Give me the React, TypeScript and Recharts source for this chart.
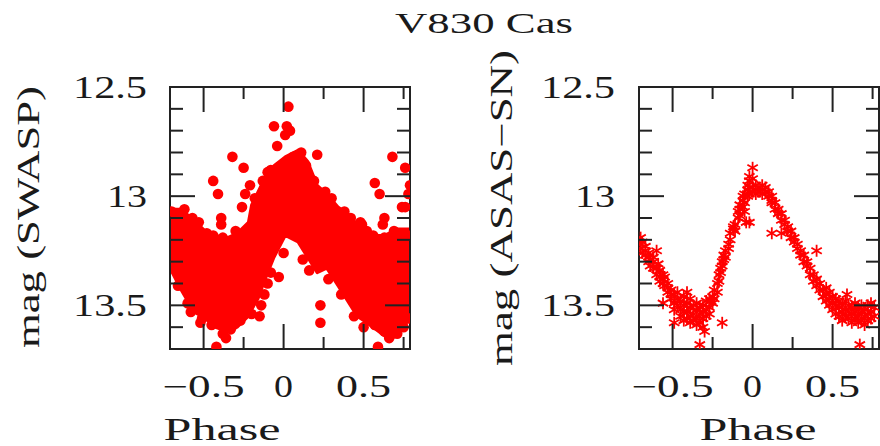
import React from "react";
import { ComposedChart, Scatter, Area, XAxis, YAxis, ReferenceArea } from "recharts";

// ── axes ───────────────────────────────────────────────────────────────────
const PHASE_DOMAIN: [number, number] = [-0.71, 0.79];
const MAG_DOMAIN: [number, number] = [12.5, 13.7];
const PHASE_TICKS = [-0.5, -0.25, 0, 0.25, 0.5, 0.75];
const PHASE_LABELS = [-0.5, 0, 0.5];
const MAG_TICKS = [12.5, 12.6, 12.7, 12.8, 12.9, 13, 13.1, 13.2, 13.3, 13.4, 13.5, 13.6, 13.7];
const MAG_LABELS = [12.5, 13, 13.5];

// ── SWASP: dense core envelope (bright / faint edge) + single dots ─────────
const bandPhase = [-0.71, -0.64, -0.56, -0.49, -0.43, -0.35, -0.29, -0.22, -0.2, -0.16, -0.12, -0.06, 0.01, 0.09, 0.15, 0.21, 0.27, 0.34, 0.4, 0.46, 0.52, 0.63, 0.71, 0.79];
const bandBright = [13.06, 13.06, 13.11, 13.16, 13.18, 13.19, 13.17, 13.12, 13.04, 12.98, 12.92, 12.86, 12.82, 12.79, 12.84, 12.95, 12.99, 13.05, 13.08, 13.13, 13.18, 13.18, 13.15, 13.15];
const bandFaint = [13.33, 13.43, 13.53, 13.56, 13.6, 13.62, 13.6, 13.55, 13.52, 13.47, 13.39, 13.28, 13.18, 13.21, 13.28, 13.35, 13.33, 13.41, 13.48, 13.55, 13.58, 13.64, 13.63, 13.56];

const swaspPoints: [number, number][] = [
  [0.03, 12.59], [-0.06, 12.68], [0.02, 12.68], [0.04, 12.7], [0.01, 12.72], [-0.04, 12.77],
  [-0.32, 12.82], [0.11, 12.8], [0.21, 12.81], [-0.25, 12.87], [-0.1, 12.89], [-0.44, 12.93],
  [-0.41, 12.99], [-0.21, 12.95], [-0.24, 12.99], [-0.26, 13.05], [-0.39, 13.1], [-0.39, 13.13],
  [0.68, 12.82], [0.76, 12.87], [0.79, 12.95], [0.78, 12.99], [0.57, 12.94], [0.6, 12.99],
  [0.76, 13.05], [0.63, 13.1], [0.62, 13.13], [0.49, 13.13], [0.0, 13.26], [-0.03, 13.37],
  [0.23, 13.5], [0.23, 13.58], [-0.42, 13.69], [-0.36, 13.65], [0.59, 13.69], [0.66, 13.65],
  [-0.7, 13.07], [-0.62, 13.06], [-0.53, 13.12], [-0.44, 13.18], [-0.38, 13.19], [-0.12, 13.45],
  [-0.14, 13.5], [-0.15, 13.55], [-0.33, 13.61], [-0.58, 13.53], [-0.66, 13.41], [0.19, 12.93],
  [0.26, 12.98], [0.38, 13.07], [0.48, 13.12], [0.74, 13.05], [0.56, 13.18], [0.63, 13.19],
  [0.78, 13.18], [0.16, 13.34], [0.44, 13.55], [0.57, 13.59], [0.63, 13.62], [-0.45, 13.59],
  [-0.51, 13.56], [-0.08, 13.35], [0.71, 13.63], [0.78, 13.56], [-0.67, 13.08], [-0.57, 13.1],
  [-0.48, 13.17], [-0.3, 13.16], [-0.18, 13.01], [-0.13, 12.93], [-0.08, 12.88], [0.06, 12.82],
  [0.14, 12.86], [0.3, 13.01], [0.42, 13.1], [0.52, 13.16], [0.69, 13.16], [-0.6, 13.49],
  [-0.52, 13.58], [-0.38, 13.63], [-0.27, 13.57], [-0.2, 13.54], [-0.1, 13.4], [0.12, 13.29],
  [0.28, 13.38], [0.36, 13.45], [0.5, 13.6], [0.68, 13.63], [0.75, 13.6],
];

// ── ASAS-SN ────────────────────────────────────────────────────────────────
const asasPoints: [number, number][] = [
  [-0.7, 13.19], [-0.7, 13.22], [-0.7, 13.24], [-0.69, 13.21], [-0.69, 13.26],
  [-0.67, 13.23], [-0.67, 13.27], [-0.67, 13.25], [-0.65, 13.26], [-0.65, 13.3], [-0.65, 13.28],
  [-0.64, 13.29], [-0.64, 13.32], [-0.62, 13.3], [-0.62, 13.33], [-0.62, 13.28], [-0.6, 13.25],
  [-0.6, 13.33], [-0.6, 13.36], [-0.59, 13.31], [-0.58, 13.34], [-0.58, 13.37], [-0.58, 13.39],
  [-0.56, 13.36], [-0.56, 13.4], [-0.56, 13.38], [-0.56, 13.49], [-0.55, 13.41], [-0.55, 13.37],
  [-0.53, 13.4], [-0.53, 13.44], [-0.53, 13.42], [-0.51, 13.43], [-0.51, 13.47], [-0.51, 13.45],
  [-0.49, 13.45], [-0.49, 13.49], [-0.49, 13.52], [-0.49, 13.58], [-0.47, 13.47], [-0.47, 13.5],
  [-0.47, 13.44], [-0.45, 13.48], [-0.45, 13.52], [-0.45, 13.55], [-0.43, 13.5], [-0.43, 13.46],
  [-0.43, 13.53], [-0.43, 13.57], [-0.41, 13.49], [-0.41, 13.53], [-0.41, 13.56], [-0.41, 13.44],
  [-0.39, 13.47], [-0.39, 13.51], [-0.39, 13.55], [-0.39, 13.58], [-0.37, 13.5], [-0.37, 13.54],
  [-0.37, 13.57], [-0.35, 13.49], [-0.35, 13.52], [-0.35, 13.56], [-0.35, 13.59], [-0.33, 13.51],
  [-0.33, 13.54], [-0.33, 13.58], [-0.33, 13.68], [-0.31, 13.5], [-0.31, 13.53], [-0.31, 13.56],
  [-0.31, 13.6], [-0.3, 13.62], [-0.29, 13.48], [-0.29, 13.52], [-0.29, 13.55], [-0.27, 13.47],
  [-0.27, 13.51], [-0.27, 13.54], [-0.26, 13.48], [-0.25, 13.46], [-0.25, 13.49], [-0.24, 13.43],
  [-0.24, 13.47], [-0.22, 13.4], [-0.22, 13.44], [-0.21, 13.36], [-0.21, 13.39], [-0.2, 13.33],
  [-0.2, 13.35], [-0.19, 13.3], [-0.19, 13.32], [-0.19, 13.58], [-0.18, 13.27], [-0.18, 13.29],
  [-0.17, 13.25], [-0.17, 13.28], [-0.15, 13.22], [-0.15, 13.24], [-0.14, 13.2], [-0.14, 13.17],
  [-0.12, 13.15], [-0.12, 13.14], [-0.11, 13.16], [-0.11, 13.13], [-0.09, 13.1], [-0.09, 13.07],
  [-0.08, 13.06], [-0.08, 13.04], [-0.08, 13.09], [-0.06, 13.02], [-0.06, 13.0], [-0.06, 13.05],
  [-0.05, 12.99], [-0.05, 13.03], [-0.05, 13.07], [-0.04, 13.12], [-0.03, 12.97], [-0.03, 13.0],
  [-0.03, 12.95], [-0.02, 12.96], [-0.02, 12.99], [-0.02, 12.93], [-0.02, 12.91], [-0.02, 13.12],
  [0.0, 12.96], [0.0, 12.98], [0.0, 12.92], [0.0, 12.87], [0.02, 12.95], [0.02, 12.97],
  [0.02, 12.99], [0.04, 12.96], [0.04, 12.98], [0.06, 12.95], [0.06, 12.97], [0.06, 12.99],
  [0.08, 12.96], [0.08, 12.98], [0.1, 12.98], [0.1, 13.0], [0.12, 13.0], [0.12, 13.03],
  [0.12, 13.02], [0.12, 13.17], [0.14, 13.03], [0.14, 13.06], [0.16, 13.06], [0.16, 13.08],
  [0.18, 13.08], [0.18, 13.11], [0.18, 13.17], [0.2, 13.11], [0.2, 13.13], [0.22, 13.14],
  [0.22, 13.16], [0.24, 13.16], [0.24, 13.19], [0.26, 13.19], [0.26, 13.21], [0.28, 13.22],
  [0.28, 13.24], [0.3, 13.25], [0.3, 13.27], [0.32, 13.27], [0.32, 13.3], [0.34, 13.3],
  [0.34, 13.32], [0.36, 13.33], [0.36, 13.36], [0.38, 13.36], [0.38, 13.39], [0.4, 13.38],
  [0.4, 13.41], [0.4, 13.25], [0.42, 13.4], [0.42, 13.43], [0.44, 13.43], [0.44, 13.46],
  [0.46, 13.45], [0.46, 13.48], [0.46, 13.42], [0.48, 13.47], [0.48, 13.5], [0.48, 13.44],
  [0.5, 13.49], [0.5, 13.52], [0.5, 13.46], [0.52, 13.5], [0.52, 13.54], [0.52, 13.47],
  [0.54, 13.51], [0.54, 13.55], [0.54, 13.48], [0.56, 13.5], [0.56, 13.53], [0.56, 13.57],
  [0.58, 13.52], [0.58, 13.55], [0.58, 13.48], [0.59, 13.45], [0.6, 13.5], [0.6, 13.53],
  [0.6, 13.56], [0.62, 13.51], [0.62, 13.54], [0.62, 13.58], [0.64, 13.49], [0.64, 13.53],
  [0.64, 13.56], [0.66, 13.51], [0.66, 13.55], [0.66, 13.58], [0.67, 13.68], [0.68, 13.5],
  [0.68, 13.53], [0.68, 13.57], [0.7, 13.52], [0.7, 13.55], [0.7, 13.59], [0.72, 13.5],
  [0.72, 13.54], [0.72, 13.57], [0.74, 13.49], [0.74, 13.53], [0.74, 13.56], [0.76, 13.51],
  [0.76, 13.55],
];

const bandData = bandPhase.map((phase, i) => ({ phase, band: [bandBright[i], bandFaint[i]] }));
const swaspData = swaspPoints.map(([phase, mag]) => ({ phase, mag }));
const asasData = asasPoints.map(([phase, mag]) => ({ phase, mag }));

// ── look ───────────────────────────────────────────────────────────────────
const FONT = "'Liberation Serif', 'Times New Roman', serif";
const INK = "#1a1a1a";
const RED = "#ff0000";
const FRAME = "#222";
const PLOT_TOP = 87;
const PLOT_BOTTOM = 349;
const AXIS_W = 20; // room reserved for the (invisible) axis strips
const AXIS_H = 20;

// widths of the wide, PGPLOT-like glyph runs
const LABEL_LEN: Record<string, number> = {
  "12.5": 74, "13": 40, "13.5": 74, "−0.5": 82, "0": 19, "0.5": 55,
};

type Panel = {
  x0: number;
  x1: number;
  magLabelEnd: number;
  phaseTitleX: number;
  magTitle: string;
  magTitleX: number;
  magTitleY: number;
  magTitleLen: number;
};

const LEFT: Panel = {
  x0: 170, x1: 410, magLabelEnd: 147, phaseTitleX: 222,
  magTitle: "mag (SWASP)", magTitleX: 39, magTitleY: 217, magTitleLen: 262,
};
const RIGHT: Panel = {
  x0: 639, x1: 879, magLabelEnd: 615, phaseTitleX: 758,
  magTitle: "mag (ASAS−SN)", magTitleX: 512, magTitleY: 208, magTitleLen: 316,
};

const fmt = (v: number) => (v < 0 ? `−${Math.abs(v)}` : `${v}`);

function Txt({ x, y, len, anchor = "middle", size = 31, rotate, children }: any) {
  return (
    <text
      x={x}
      y={y}
      textAnchor={anchor}
      fontFamily={FONT}
      fontSize={size}
      fill={INK}
      textLength={len}
      lengthAdjust="spacingAndGlyphs"
      transform={rotate ? `rotate(${rotate} ${x} ${y})` : undefined}
    >
      {children}
    </text>
  );
}

function PhaseTick({ x, payload, panel }: any) {
  const v = payload.value as number;
  const major = PHASE_LABELS.includes(v);
  const len = major ? 25 : 12;
  const label = fmt(v);
  return (
    <g>
      <line x1={x} x2={x} y1={PLOT_BOTTOM} y2={PLOT_BOTTOM - len} stroke={FRAME} strokeWidth={2} />
      <line x1={x} x2={x} y1={PLOT_TOP} y2={PLOT_TOP + len} stroke={FRAME} strokeWidth={2} />
      {major && (
        <Txt x={x} y={397} len={LABEL_LEN[label]}>
          {label}
        </Txt>
      )}
      {v === 0 && (
        <Txt x={panel.phaseTitleX} y={440} len={117}>
          Phase
        </Txt>
      )}
    </g>
  );
}

function MagTick({ y, payload, panel }: any) {
  const v = payload.value as number;
  const major = MAG_LABELS.some((m) => Math.abs(m - v) < 1e-6);
  const len = major ? 25 : 13;
  const label = fmt(v);
  return (
    <g>
      <line x1={panel.x0} x2={panel.x0 + len} y1={y} y2={y} stroke={FRAME} strokeWidth={2} />
      <line x1={panel.x1} x2={panel.x1 - len} y1={y} y2={y} stroke={FRAME} strokeWidth={2} />
      {major && (
        <Txt x={panel.magLabelEnd} y={y + 10.5} anchor="end" len={LABEL_LEN[label]}>
          {label}
        </Txt>
      )}
      {v === 13 && (
        <Txt x={panel.magTitleX} y={panel.magTitleY} len={panel.magTitleLen} rotate={-90}>
          {panel.magTitle}
        </Txt>
      )}
    </g>
  );
}

function Dot({ cx, cy }: any) {
  return <circle cx={cx} cy={cy} r={5.3} fill={RED} />;
}

function Star({ cx, cy }: any) {
  const r = 6;
  const dx = r * 0.866;
  const dy = r * 0.5;
  return (
    <g stroke={RED} strokeWidth={1.8}>
      <line x1={cx} y1={cy - r} x2={cx} y2={cy + r} />
      <line x1={cx - dx} y1={cy - dy} x2={cx + dx} y2={cy + dy} />
      <line x1={cx - dx} y1={cy + dy} x2={cx + dx} y2={cy - dy} />
    </g>
  );
}

function PanelChart({ panel, children, data }: { panel: Panel; children: React.ReactNode; data?: any[] }) {
  return (
    <div style={{ position: "absolute", left: 0, top: 0 }}>
      <ComposedChart
        width={880}
        height={446}
        data={data}
        margin={{
          top: PLOT_TOP,
          bottom: 446 - PLOT_BOTTOM - AXIS_H,
          left: panel.x0 - AXIS_W,
          right: 880 - panel.x1,
        }}
      >
        <XAxis
          type="number"
          dataKey="phase"
          domain={PHASE_DOMAIN}
          ticks={PHASE_TICKS}
          interval={0}
          allowDataOverflow
          height={AXIS_H}
          axisLine={false}
          tickLine={false}
          tick={(p: any) => <PhaseTick {...p} panel={panel} />}
        />
        <YAxis
          type="number"
          domain={MAG_DOMAIN}
          reversed
          ticks={MAG_TICKS}
          interval={0}
          allowDataOverflow
          width={AXIS_W}
          axisLine={false}
          tickLine={false}
          tick={(p: any) => <MagTick {...p} panel={panel} />}
        />
        {children}
        <ReferenceArea
          x1={PHASE_DOMAIN[0]}
          x2={PHASE_DOMAIN[1]}
          y1={MAG_DOMAIN[0]}
          y2={MAG_DOMAIN[1]}
          fill="none"
          stroke={FRAME}
          strokeWidth={2}
          ifOverflow="visible"
        />
      </ComposedChart>
    </div>
  );
}

export default function App() {
  return (
    <div style={{ position: "absolute", left: 0, top: 0, width: 880, height: 446, background: "#fff" }}>
      <PanelChart panel={LEFT} data={bandData}>
        <Area
          type="linear"
          dataKey="band"
          fill={RED}
          fillOpacity={1}
          stroke={RED}
          strokeWidth={3}
          strokeLinejoin="round"
          dot={false}
          activeDot={false}
          isAnimationActive={false}
        />
        <Scatter data={swaspData} dataKey="mag" shape={(p: any) => <Dot {...p} />} isAnimationActive={false} />
      </PanelChart>
      <PanelChart panel={RIGHT}>
        <Scatter data={asasData} dataKey="mag" shape={(p: any) => <Star {...p} />} isAnimationActive={false} />
      </PanelChart>
      <svg width={880} height={446} style={{ position: "absolute", left: 0, top: 0, pointerEvents: "none" }}>
        <Txt x={484} y={33} len={178} size={30}>
          V830 Cas
        </Txt>
      </svg>
    </div>
  );
}
